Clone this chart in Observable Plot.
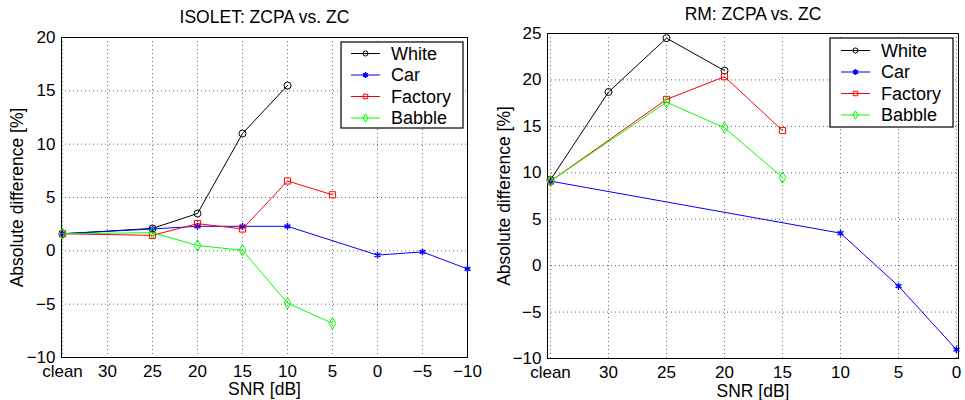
<!DOCTYPE html>
<html>
<head>
<meta charset="utf-8">
<script src="https://cdn.jsdelivr.net/npm/d3@7"></script>
<script src="https://cdn.jsdelivr.net/npm/@observablehq/plot@0.6"></script>
<style>
  html, body { margin: 0; padding: 0; background: #fff; }
  #wrap { position: relative; width: 965px; height: 400px; overflow: hidden; background: #fff; }
  .panel { position: absolute; top: 0; }
  .legend { position: absolute; overflow: visible; }
</style>
</head>
<body>
<div id="wrap"></div>
<script>
// ---------- data ----------
const seriesNames = ["White", "Car", "Factory", "Babble"];
const seriesColors = ["#000000", "#0000ff", "#ff0000", "#00ff00"];
const seriesSymbols = ["circle", "asterisk", "square", "diamond"];

// Left panel: ISOLET
const titleL = "ISOLET: ZCPA vs. ZC";
const catsL = ["clean", "30", "25", "20", "15", "10", "5", "0", "−5", "−10"];
const yTicksL = [-10, -5, 0, 5, 10, 15, 20];
const whiteL   = [1.6, null, 2.1, 3.5, 11.0, 15.5, null, null, null, null];
const carL     = [1.6, null, 2.05, 2.3, 2.3, 2.3, null, -0.4, -0.1, -1.7];
const factoryL = [1.6, null, 1.45, 2.55, 2.05, 6.55, 5.25, null, null, null];
const babbleL  = [1.6, null, 1.7, 0.5, 0.05, -4.9, -6.8, null, null, null];

// Right panel: RM
const titleR = "RM: ZCPA vs. ZC";
const catsR = ["clean", "30", "25", "20", "15", "10", "5", "0"];
const yTicksR = [-10, -5, 0, 5, 10, 15, 20, 25];
const whiteR   = [9.25, 18.7, 24.5, 21.0, null, null, null, null];
const carR     = [9.1, null, null, null, null, 3.5, -2.2, -9.05];
const factoryR = [9.1, null, 17.9, 20.35, 14.55, null, null, null];
const babbleR  = [9.1, null, 17.6, 14.85, 9.5, null, null, null];

const xLabel = "SNR [dB]";
const yLabel = "Absolute difference [%]";

// ---------- build ----------
const FONT = "'Liberation Sans', Arial, Helvetica, sans-serif";

function records(cats, arrays) {
  const out = [];
  arrays.forEach((arr, si) => {
    arr.forEach((v, i) => {
      if (v !== null) out.push({series: seriesNames[si], x: cats[i], y: v});
    });
  });
  return out;
}

function makePanel(cfg) {
  const data = records(cfg.cats, cfg.arrays);
  const grid = {stroke: "#000", strokeOpacity: 0.6, strokeDasharray: "1,3", strokeWidth: 1};
  const marks = [
    Plot.gridX(grid),
    Plot.gridY(cfg.yTicks, grid),
    Plot.axisX({tickSize: 0, tickPadding: 7, fontSize: 17}),
    Plot.axisY(cfg.yTicks, {tickSize: 0, tickPadding: 6, fontSize: 17}),
    Plot.frame({stroke: "#000", strokeWidth: 1})
  ];
  seriesNames.forEach((name, si) => {
    const d = data.filter(r => r.series === name);
    marks.push(Plot.line(d, {x: "x", y: "y", stroke: seriesColors[si], strokeWidth: 1}));
    marks.push(Plot.dot(d, {
      x: "x", y: "y", symbol: () => seriesSymbols[si],
      stroke: seriesColors[si], fill: "none",
      r: si === 1 ? 3.2 : 3.5, strokeWidth: si === 1 ? 1.5 : 1
    }));
  });
  marks.push(Plot.text([cfg.title], {frameAnchor: "top", dy: cfg.titleDy, lineAnchor: "middle", fontSize: 17.5, fill: "#000"}));
  marks.push(Plot.text([xLabel], {frameAnchor: "bottom", dy: cfg.xLabelDy, lineAnchor: "middle", fontSize: 17.5, fill: "#000"}));
  marks.push(Plot.text([yLabel], {frameAnchor: "left", dx: cfg.yLabelDx, rotate: -90, textAnchor: "middle", lineAnchor: "middle", fontSize: 17.5, fill: "#000"}));

  return Plot.plot({
    width: cfg.width, height: 400,
    marginLeft: cfg.ml, marginRight: cfg.mr, marginTop: cfg.mt, marginBottom: cfg.mb,
    style: {fontFamily: FONT, fontSize: "17px", color: "#000", background: "transparent", overflow: "visible"},
    x: {type: "point", domain: cfg.cats, padding: 0, label: null},
    y: {domain: [cfg.yTicks[0], cfg.yTicks[cfg.yTicks.length - 1]], label: null},
    symbol: {domain: seriesSymbols, range: seriesSymbols},
    marks
  });
}

function makeLegend(box) {
  const svg = d3.create("svg")
    .attr("class", "legend")
    .attr("width", box.w + 2).attr("height", box.h + 2)
    .style("left", (box.x - 1) + "px").style("top", (box.y - 1) + "px")
    .style("font-family", FONT);
  svg.append("rect").attr("x", 1).attr("y", 1).attr("width", box.w).attr("height", box.h)
    .attr("fill", "#fff").attr("stroke", "#000").attr("stroke-width", 1.2);
  const symMap = {circle: d3.symbolCircle, asterisk: d3.symbolAsterisk, square: d3.symbolSquare, diamond: d3.symbolDiamond};
  seriesNames.forEach((name, i) => {
    const cy = 1 + box.row0 + i * box.rowH;
    const g = svg.append("g");
    g.append("line").attr("x1", 1 + box.lx1).attr("x2", 1 + box.lx2).attr("y1", cy).attr("y2", cy)
      .attr("stroke", seriesColors[i]).attr("stroke-width", 1);
    g.append("path").attr("d", d3.symbol(symMap[seriesSymbols[i]], i === 1 ? 24 : 20)())
      .attr("transform", `translate(${1 + (box.lx1 + box.lx2) / 2},${cy})`)
      .attr("fill", "none").attr("stroke", seriesColors[i]).attr("stroke-width", i === 1 ? 1.5 : 1);
    g.append("text").attr("x", 1 + box.tx).attr("y", cy).attr("dy", "0.35em")
      .attr("font-size", 18).attr("fill", "#000").text(name);
  });
  return svg.node();
}

const wrap = document.getElementById("wrap");

const left = document.createElement("div");
left.className = "panel"; left.style.left = "0px";
left.appendChild(makePanel({
  cats: catsL, yTicks: yTicksL, arrays: [whiteL, carL, factoryL, babbleL], title: titleL,
  width: 480, ml: 61, mr: 13, mt: 37, mb: 43, titleDy: -20, xLabelDy: 32, yLabelDx: -44
}));
wrap.appendChild(left);

const right = document.createElement("div");
right.className = "panel"; right.style.left = "480px";
right.appendChild(makePanel({
  cats: catsR, yTicks: yTicksR, arrays: [whiteR, carR, factoryR, babbleR], title: titleR,
  width: 485, ml: 67, mr: 7, mt: 33, mb: 42, titleDy: -19, xLabelDy: 33, yLabelDx: -43
}));
wrap.appendChild(right);

wrap.appendChild(makeLegend({x: 341, y: 42, w: 122, h: 86, row0: 11.5, rowH: 21.5, lx1: 10, lx2: 39, tx: 50}));
wrap.appendChild(makeLegend({x: 830, y: 38, w: 123, h: 89, row0: 12.5, rowH: 21.5, lx1: 11, lx2: 40, tx: 51}));
</script>
</body>
</html>
